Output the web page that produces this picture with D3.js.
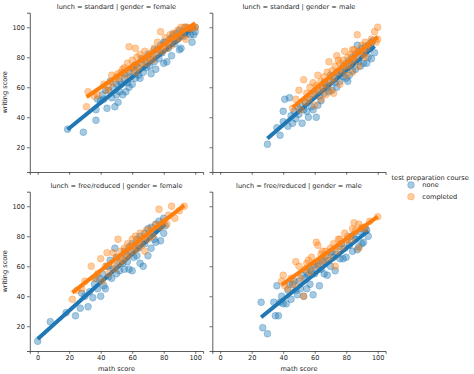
<!DOCTYPE html>
<html>
<head>
<meta charset="utf-8">
<script src="https://cdn.jsdelivr.net/npm/d3@7"></script>
<style>
  body { margin: 0; background: #fff; }
  text { font-family: "DejaVu Sans", sans-serif; fill: #262626; }
</style>
</head>
<body>
<div id="chart"></div>
<script>
// [math score, writing score] per facet and test preparation course
var stdFemaleNone = [[19,32],[29,30],[37,38],[37,45],[38,52],[40,51],[41,55],[42,52],[43,58],[44,46],[45,58],[46,64],[47,53],[48,60],[49,47],[50,55],[50,62],[51,50],[52,57],[52,64],[53,62],[54,55],[55,66],[55,69],[56,57],[57,63],[58,60],[58,70],[59,67],[60,62],[60,73],[61,72],[62,66],[62,75],[63,74],[64,68],[65,66],[66,76],[66,79],[67,70],[68,78],[69,73],[70,80],[70,82],[71,74],[72,69],[73,82],[74,77],[74,85],[75,72],[76,85],[77,79],[78,88],[79,83],[80,76],[80,90],[81,90],[82,77],[83,86],[84,92],[85,81],[85,93],[86,95],[87,89],[88,96],[89,92],[90,85],[90,98],[91,86],[92,97],[93,94],[94,100],[95,96],[96,99],[97,95],[98,90],[99,95],[100,100],[100,97]];
var stdFemaleCompleted = [[31,47],[32,57],[36,54],[38,55],[42,62],[44,58],[45,60],[47,68],[48,63],[50,67],[51,69],[52,66],[53,70],[54,72],[55,73],[56,68],[57,76],[58,87],[59,72],[60,78],[61,74],[62,86],[62,70],[63,80],[64,73],[65,82],[66,76],[67,79],[68,84],[69,76],[70,80],[71,80],[72,83],[73,78],[74,86],[75,82],[76,90],[77,85],[78,97],[79,84],[80,88],[81,93],[82,86],[83,91],[84,95],[85,88],[86,96],[87,94],[88,92],[89,98],[90,93],[91,100],[92,95],[93,100],[94,92],[95,100],[96,99],[97,99],[98,100],[99,100],[100,100]];
var stdMaleNone = [[30,22],[36,33],[38,28],[40,37],[40,44],[41,52],[43,34],[44,53],[45,41],[46,36],[47,44],[48,39],[49,47],[50,42],[51,48],[52,36],[53,45],[54,50],[55,44],[56,40],[57,52],[58,47],[59,45],[60,55],[61,40],[62,48],[62,58],[63,54],[64,51],[65,60],[66,56],[66,63],[67,62],[68,60],[69,57],[70,64],[70,68],[71,58],[72,66],[73,63],[74,60],[74,70],[75,69],[76,64],[77,70],[78,67],[78,74],[79,73],[80,66],[80,76],[81,64],[82,68],[82,78],[83,75],[84,71],[84,80],[85,78],[86,72],[86,82],[87,88],[88,77],[88,84],[89,74],[90,82],[90,86],[91,76],[92,84],[92,87],[93,76],[94,80],[94,88],[95,86],[96,79],[96,90],[97,91],[98,83]];
var stdMaleCompleted = [[46,46],[48,52],[50,58],[51,45],[53,65],[54,50],[55,56],[56,52],[57,60],[58,55],[59,63],[60,57],[60,48],[61,61],[62,68],[63,58],[64,64],[64,52],[65,60],[66,67],[67,62],[67,55],[68,70],[69,77],[70,64],[70,58],[71,71],[72,66],[72,56],[73,74],[74,81],[75,70],[75,78],[76,76],[76,62],[77,72],[78,78],[79,84],[80,74],[80,68],[81,80],[82,75],[83,82],[84,78],[84,70],[84,85],[85,85],[86,80],[87,95],[88,84],[88,74],[89,84],[90,88],[91,82],[92,90],[92,80],[93,86],[95,89],[96,92],[98,97],[99,90],[100,100],[100,92]];
var freeFemaleNone = [[0,10],[8,23],[18,29],[24,27],[27,32],[28,42],[30,40],[32,33],[33,43],[35,39],[36,48],[37,52],[38,45],[39,52],[40,40],[41,55],[42,47],[43,45],[44,60],[45,53],[45,60],[46,64],[47,52],[48,58],[49,72],[50,55],[50,66],[51,61],[52,57],[53,66],[54,62],[55,58],[55,70],[56,68],[57,63],[58,58],[58,73],[59,70],[60,57],[60,75],[61,66],[62,74],[63,67],[63,78],[64,72],[65,62],[65,80],[66,77],[67,60],[68,75],[68,82],[70,67],[70,85],[71,80],[72,72],[72,86],[73,82],[74,78],[75,76],[75,88],[76,85],[77,90],[78,77],[79,88],[80,82],[80,92],[81,87]];
var freeFemaleCompleted = [[22,38],[25,44],[28,45],[30,50],[34,60],[36,52],[38,55],[40,65],[41,50],[43,60],[44,69],[45,55],[47,62],[48,69],[49,58],[50,66],[51,78],[52,62],[53,70],[54,64],[55,72],[56,66],[57,75],[58,68],[59,73],[60,78],[61,70],[62,80],[63,72],[64,77],[65,82],[66,74],[67,79],[68,70],[69,84],[70,78],[72,85],[73,80],[75,88],[77,98],[78,86],[80,90],[82,88],[83,94],[85,100],[87,92],[90,97],[93,100]];
var freeMaleNone = [[26,36],[27,19],[30,15],[34,36],[35,27],[36,47],[37,27],[38,36],[39,40],[40,35],[42,35],[43,44],[44,48],[45,38],[46,48],[47,50],[48,44],[49,41],[50,50],[51,45],[52,54],[53,40],[54,52],[55,45],[55,56],[56,54],[57,48],[57,58],[58,57],[59,41],[60,55],[60,61],[61,62],[62,60],[63,47],[64,58],[65,63],[65,64],[66,55],[67,67],[68,54],[69,64],[70,60],[70,69],[71,70],[72,66],[73,57],[74,68],[75,73],[76,65],[77,75],[78,65],[79,72],[80,66],[81,78],[82,74],[83,80],[84,70],[85,81],[86,78],[87,71],[88,73],[89,83],[90,75],[90,85],[91,76],[92,86],[93,84],[94,80]];
var freeMaleCompleted = [[39,50],[40,54],[41,47],[43,45],[45,52],[47,48],[48,63],[50,60],[51,52],[53,40],[54,58],[55,62],[56,64],[57,56],[58,66],[60,60],[61,76],[62,74],[63,62],[64,68],[65,70],[66,64],[67,70],[69,66],[70,72],[72,75],[73,60],[74,70],[75,78],[76,78],[77,73],[79,82],[80,77],[81,80],[83,78],[84,85],[85,89],[86,84],[88,88],[88,72],[90,86],[92,85],[95,90],[100,93]];

var facetTitles = ["lunch = standard | gender = female", "lunch = standard | gender = male",
                   "lunch = free/reduced | gender = female", "lunch = free/reduced | gender = male"];
var hues = ["none", "completed"];
var hueColors = ["#1f77b4", "#ff7f0e"];
var xTicks = [0, 20, 40, 60, 80, 100];
var yTicks = [20, 40, 60, 80, 100];

var facets = [
    {title: facetTitles[0], row: 0, col: 0, series: [stdFemaleNone, stdFemaleCompleted]},
    {title: facetTitles[1], row: 0, col: 1, series: [stdMaleNone, stdMaleCompleted]},
    {title: facetTitles[2], row: 1, col: 0, series: [freeFemaleNone, freeFemaleCompleted]},
    {title: facetTitles[3], row: 1, col: 1, series: [freeMaleNone, freeMaleCompleted]}
];

var width = 474, height = 374;
var panelW = 173.3, panelH = 159.3;
var colLeft = [29.8, 212.3], rowTop = [12.7, 191.7];

var svg = d3.select("#chart").append("svg")
    .attr("width", width)
    .attr("height", height);

// least squares fit, drawn over the range of the data (like seaborn truncate)
function regress(pts) {
    var mx = d3.mean(pts, function(d){ return d[0]; });
    var my = d3.mean(pts, function(d){ return d[1]; });
    var sxy = d3.sum(pts, function(d){ return (d[0]-mx)*(d[1]-my); });
    var sxx = d3.sum(pts, function(d){ return (d[0]-mx)*(d[0]-mx); });
    var b = sxy / sxx, a = my - b*mx;
    var ext = d3.extent(pts, function(d){ return d[0]; });
    return ext.map(function(x){ return [x, a + b*x]; });
}

facets.forEach(function(f){
    var left = colLeft[f.col], top = rowTop[f.row];
    var x = d3.scaleLinear().domain([-5, 105]).range([left, left + panelW]);
    var y = d3.scaleLinear().domain([3.5, 109.7]).range([top + panelH, top]);

    var g = svg.append("g");

    var xAxis = d3.axisBottom(x).tickValues(xTicks).tickSize(2.8).tickPadding(2);
    var yAxis = d3.axisLeft(y).tickValues(yTicks).tickSize(2.8).tickPadding(2);
    if (f.row == 0) xAxis.tickFormat("");
    if (f.col == 1) yAxis.tickFormat("");

    var gx = g.append("g")
        .attr("transform", "translate(0," + (top + panelH) + ")")
        .call(xAxis);
    var gy = g.append("g")
        .attr("transform", "translate(" + left + ",0)")
        .call(yAxis);
    [gx, gy].forEach(function(ax){
        ax.select(".domain").attr("stroke", "#333").attr("stroke-width", 0.8);
        ax.selectAll(".tick line").attr("stroke", "#333").attr("stroke-width", 0.7);
        ax.selectAll(".tick text")
            .attr("font-size", 6.6)
            .attr("font-family", "DejaVu Sans")
            .attr("fill", "#262626");
    });

    g.append("text")
        .attr("x", left + panelW/2)
        .attr("y", top - 3.5)
        .attr("text-anchor", "middle")
        .attr("font-size", 6.6)
        .text(f.title);

    var line = d3.line()
        .x(function(d){ return x(d[0]); })
        .y(function(d){ return y(d[1]); });

    f.series.forEach(function(pts, i){
        g.append("g").selectAll("circle")
            .data(pts)
            .enter()
            .append("circle")
            .attr("cx", function(d){ return x(d[0]); })
            .attr("cy", function(d){ return y(d[1]); })
            .attr("r", 3.4)
            .attr("fill", hueColors[i])
            .attr("fill-opacity", 0.4)
            .attr("stroke", hueColors[i])
            .attr("stroke-opacity", 0.4)
            .attr("stroke-width", 0.7);

        g.append("path")
            .datum(regress(pts))
            .attr("d", line)
            .attr("fill", "none")
            .attr("stroke", hueColors[i])
            .attr("stroke-width", 4);
    });

    if (f.col == 0) {
        g.append("text")
            .attr("transform", "translate(7," + (top + panelH/2) + ") rotate(-90)")
            .attr("text-anchor", "middle")
            .attr("font-size", 6.6)
            .text("writing score");
    }
    if (f.row == 1) {
        g.append("text")
            .attr("x", left + panelW/2)
            .attr("y", 370.5)
            .attr("text-anchor", "middle")
            .attr("font-size", 6.6)
            .text("math score");
    }
});

// legend
var legend = svg.append("g");
legend.append("text")
    .attr("x", 391.5)
    .attr("y", 179.5)
    .attr("font-size", 6.6)
    .text("test preparation course");
hues.forEach(function(h, i){
    var ly = 185 + i*11.7;
    legend.append("circle")
        .attr("cx", 411)
        .attr("cy", ly)
        .attr("r", 3.4)
        .attr("fill", hueColors[i])
        .attr("fill-opacity", 0.4)
        .attr("stroke", hueColors[i])
        .attr("stroke-opacity", 0.4)
        .attr("stroke-width", 0.7);
    legend.append("text")
        .attr("x", 422.3)
        .attr("y", ly + 2.3)
        .attr("font-size", 6.6)
        .text(h);
});
</script>
</body>
</html>
